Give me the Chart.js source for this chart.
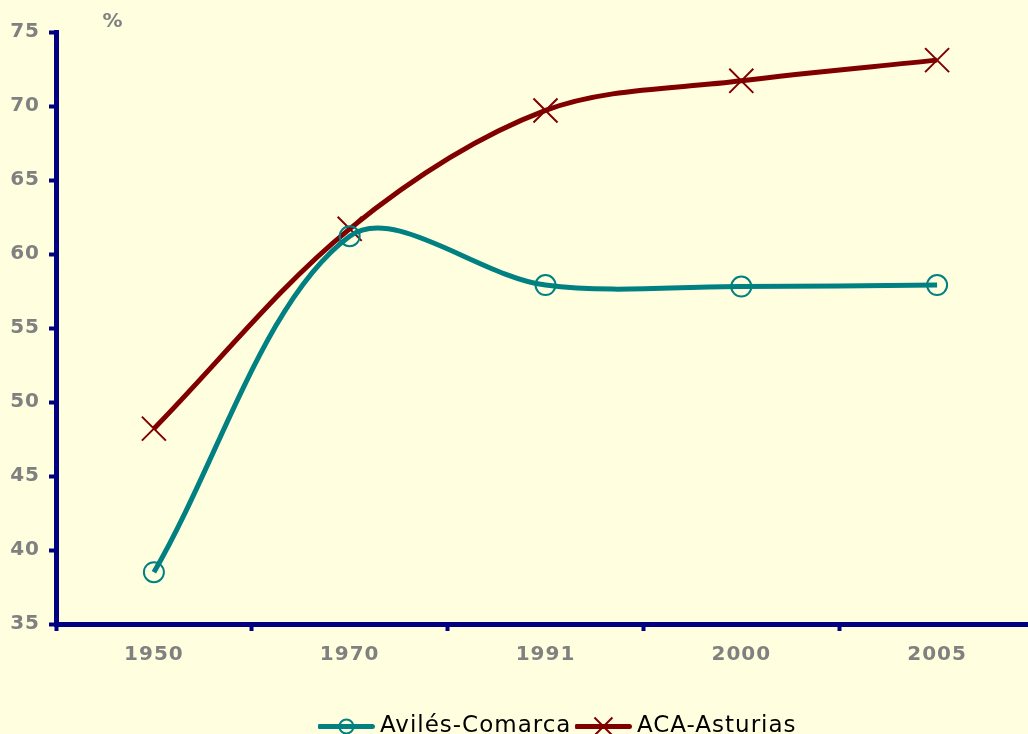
<!DOCTYPE html>
<html>
<head>
<meta charset="utf-8">
<script src="https://cdn.jsdelivr.net/npm/chart.js@4/dist/chart.umd.min.js"></script>
<style>
  html, body { margin: 0; padding: 0; background: #FFFFE0; overflow: hidden; }
  #wrap { position: absolute; left: 0; top: 0; width: 1050px; height: 760px; }
</style>
</head>
<body>
<div id="wrap"><canvas id="popChart"></canvas></div>
<script>
const years = ['1950', '1970', '1991', '2000', '2005'];
const avilesComarca = [38.5, 61.2, 57.9, 57.8, 57.9];
const acaAsturias = [48.2, 61.7, 69.7, 71.7, 73.1];
const yMin = 35;
const yMax = 75;
const yStep = 5;
const unitLabel = '%';

const COLORS = {
  teal: '#008080',
  red: '#800000',
  navy: '#000080',
  grey: '#808080',
};

const tickFont = { family: 'DejaVu Sans', size: 20, weight: 'bold' };

// legend line + marker, the "%" label, and a bit of letter spacing like the original
const decorations = {
  id: 'decorations',
  beforeLayout(chart) {
    chart.ctx.letterSpacing = '1px';
  },
  afterLayout(chart) {
    // legend sits a bit right of centre in the original
    chart.legend.left += 40;
    chart.legend.right += 40;
  },
  beforeDraw(chart) {
    chart.ctx.letterSpacing = '1px';
  },
  afterDraw(chart) {
    const ctx = chart.ctx;
    const area = chart.chartArea;
    ctx.save();
    ctx.fillStyle = COLORS.grey;
    ctx.font = 'bold 20px "DejaVu Sans"';
    ctx.textAlign = 'center';
    ctx.textBaseline = 'middle';
    ctx.fillText(unitLabel, area.left + 57, area.top - 10);

    const boxes = chart.legend.legendHitBoxes || [];
    boxes.forEach((hb, i) => {
      const ds = chart.data.datasets[i];
      const y = hb.top + 23 / 2;
      ctx.strokeStyle = ds.borderColor;
      ctx.lineWidth = 5;
      ctx.lineCap = 'round';
      ctx.beginPath();
      ctx.moveTo(hb.left + 2, y);
      ctx.lineTo(hb.left + 54, y);
      ctx.stroke();
      ctx.lineWidth = 2;
      ctx.lineCap = 'butt';
      const cx = hb.left + 28;
      if (i === 0) {
        ctx.beginPath();
        ctx.arc(cx, y, 7, 0, 2 * Math.PI);
        ctx.stroke();
      } else {
        const r = 9;
        ctx.beginPath();
        ctx.moveTo(cx - r, y - r); ctx.lineTo(cx + r, y + r);
        ctx.moveTo(cx - r, y + r); ctx.lineTo(cx + r, y - r);
        ctx.stroke();
      }
    });
    ctx.restore();
  }
};

const ctx = document.getElementById('popChart').getContext('2d');

new Chart(ctx, {
  type: 'line',
  data: {
    labels: years,
    datasets: [
      {
        label: 'Avilés-Comarca',
        data: avilesComarca,
        borderColor: COLORS.teal,
        backgroundColor: COLORS.teal,
        borderWidth: 5,
        tension: 0.33,
        pointStyle: 'circle',
        pointRadius: 10,
        pointBorderWidth: 2,
        pointBackgroundColor: 'rgba(0,0,0,0)',
        pointBorderColor: COLORS.teal,
      },
      {
        label: 'ACA-Asturias',
        data: acaAsturias,
        borderColor: COLORS.red,
        backgroundColor: COLORS.red,
        borderWidth: 5,
        tension: 0.33,
        pointStyle: 'crossRot',
        pointRadius: 17,
        pointBorderWidth: 2,
        pointBorderColor: COLORS.red,
      },
    ]
  },
  options: {
    responsive: true,
    maintainAspectRatio: false,
    devicePixelRatio: 1,
    animation: false,
    layout: {
      autoPadding: false,
      padding: { top: 32, right: 15, bottom: 12, left: 0 }
    },
    plugins: {
      legend: {
        position: 'bottom',
        labels: {
          color: '#000000',
          font: { family: 'DejaVu Sans', size: 23 },
          boxWidth: 50,
          boxHeight: 0,
          padding: 4,
        }
      },
      tooltip: { enabled: false },
    },
    scales: {
      x: {
        offset: true,
        afterFit(scale) { scale.height = 87; },
        grid: {
          offset: true,
          drawOnChartArea: false,
          drawTicks: true,
          tickLength: 7,
          tickWidth: 4,
          tickColor: COLORS.navy,
        },
        border: { display: true, color: COLORS.navy, width: 5 },
        ticks: {
          color: COLORS.grey,
          font: tickFont,
          padding: 12,
          maxRotation: 0,
        }
      },
      y: {
        min: yMin,
        max: yMax,
        afterFit(scale) { scale.width = 56; },
        grid: {
          drawOnChartArea: false,
          drawTicks: true,
          tickLength: 7,
          tickWidth: 4,
          tickColor: COLORS.navy,
        },
        border: { display: true, color: COLORS.navy, width: 5 },
        ticks: {
          stepSize: yStep,
          color: COLORS.grey,
          font: tickFont,
          padding: 9,
        }
      }
    }
  },
  plugins: [decorations]
});
</script>
</body>
</html>
